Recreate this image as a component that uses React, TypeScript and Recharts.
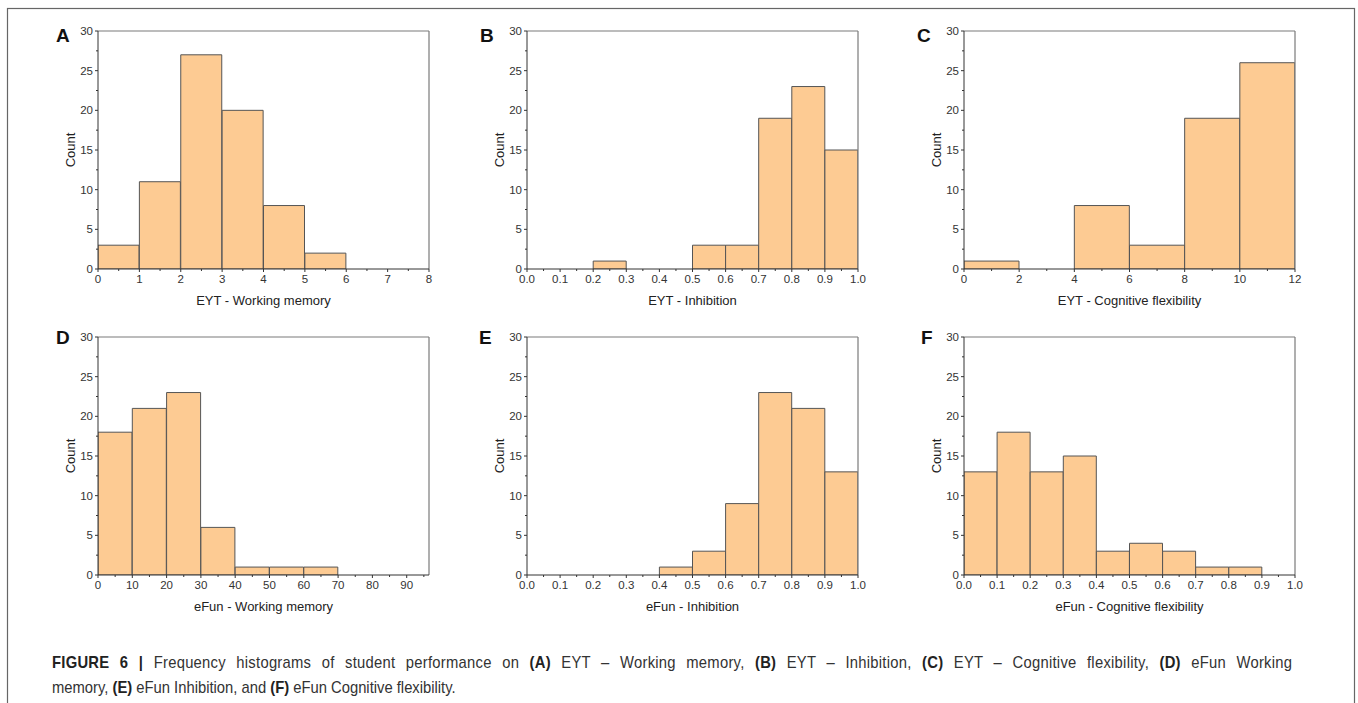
import React from "react";
import { Bar, BarChart, ReferenceLine, XAxis, YAxis } from "recharts";

// bin centres and counts
const eytWmBins = [0.5, 1.5, 2.5, 3.5, 4.5, 5.5];
const eytWmCounts = [3, 11, 27, 20, 8, 2];

const eytInhBins = [0.05, 0.15, 0.25, 0.35, 0.45, 0.55, 0.65, 0.75, 0.85, 0.95];
const eytInhCounts = [0, 0, 1, 0, 0, 3, 3, 19, 23, 15];

const eytCfBins = [1, 3, 5, 7, 9, 11];
const eytCfCounts = [1, 0, 8, 3, 19, 26];

const efunWmBins = [5, 15, 25, 35, 45, 55, 65];
const efunWmCounts = [18, 21, 23, 6, 1, 1, 1];

const efunInhBins = [0.45, 0.55, 0.65, 0.75, 0.85, 0.95];
const efunInhCounts = [1, 3, 9, 23, 21, 13];

const efunCfBins = [0.05, 0.15, 0.25, 0.35, 0.45, 0.55, 0.65, 0.75, 0.85];
const efunCfCounts = [13, 18, 13, 15, 3, 4, 3, 1, 1];

// major tick labels
const countTicks = [0, 5, 10, 15, 20, 25, 30];
const wmTicks = [0, 1, 2, 3, 4, 5, 6, 7, 8];
const fracTicks = [0, 0.1, 0.2, 0.3, 0.4, 0.5, 0.6, 0.7, 0.8, 0.9, 1.0];
const cfTicks = [0, 2, 4, 6, 8, 10, 12];
const efunWmTicks = [0, 10, 20, 30, 40, 50, 60, 70, 80, 90];

const FILL = "#FDCB93";
const EDGE = "#555555";
const AXIS = "#333333";
const FRAME = "#7a7a7a";
const FONT = "'Liberation Sans', Arial, sans-serif";
const TICK = 3;
const GAP = 2;
const XGAP = 3;

const PLOT_W = 331;
const PLOT_H = 238;
const Y_AXIS_W = 56;
const X_AXIS_H = 40;
const M = { top: 10, right: 10, bottom: 0, left: 0 };

// caption is set in a condensed face; squeeze Liberation Sans to match
const CAP_SQUEEZE = 0.87;

// majors plus a minor tick halfway between each pair
function withMinors(majors: number[], max: number) {
  const step = majors[1] - majors[0];
  const all: number[] = [];
  majors.forEach((m) => {
    all.push(m);
    const mid = m + step / 2;
    if (mid < max - 1e-9) all.push(mid);
  });
  return all;
}

const isMajor = (v: number, majors: number[]) => majors.some((m) => Math.abs(m - v) < 1e-9);

function XTick(props: any) {
  const { x, y, payload, majors, digits } = props;
  const major = isMajor(payload.value, majors);
  const axisY = y - TICK - XGAP;
  return (
    <g>
      <line x1={x} x2={x} y1={axisY} y2={axisY + (major ? TICK : 2)} stroke={AXIS} />
      {major && (
        <text x={x} y={y} dy="0.71em" textAnchor="middle" fontSize={11.5} fill="#333" fontFamily={FONT}>
          {payload.value.toFixed(digits)}
        </text>
      )}
    </g>
  );
}

function YTick(props: any) {
  const { x, y, payload } = props;
  const major = isMajor(payload.value, countTicks);
  const axisX = x + TICK + GAP;
  return (
    <g>
      <line x1={axisX} x2={axisX - (major ? TICK : 2)} y1={y} y2={y} stroke={AXIS} />
      {major && (
        <text x={x} y={y} dy="0.355em" textAnchor="end" fontSize={11.5} fill="#333" fontFamily={FONT}>
          {payload.value}
        </text>
      )}
    </g>
  );
}

type PanelProps = {
  bins: number[];
  counts: number[];
  majors: number[];
  xMax: number;
  digits: number;
  title: string;
  left: number;
  top: number;
};

function Histogram({ bins, counts, majors, xMax, digits, title, left, top }: PanelProps) {
  const data = bins.map((x, i) => ({ x, count: counts[i] }));
  return (
    <div style={{ position: "absolute", left: left - Y_AXIS_W, top: top - M.top }}>
      <BarChart
        width={Y_AXIS_W + PLOT_W + M.right}
        height={M.top + PLOT_H + X_AXIS_H}
        data={data}
        margin={M}
        barCategoryGap={0}
        barGap={0}
      >
        <XAxis
          dataKey="x"
          type="number"
          domain={[0, xMax]}
          allowDataOverflow
          ticks={withMinors(majors, xMax)}
          interval={0}
          height={X_AXIS_H}
          tickLine={false}
          tickSize={TICK}
          tickMargin={XGAP}
          axisLine={{ stroke: AXIS }}
          tick={(p: any) => <XTick {...p} majors={majors} digits={digits} />}
          label={{ value: title, position: "insideBottom", offset: 4, fontSize: 13, fill: "#222", fontFamily: FONT }}
        />
        <YAxis
          type="number"
          domain={[0, 30]}
          allowDataOverflow
          ticks={withMinors(countTicks, 30.01)}
          interval={0}
          width={Y_AXIS_W}
          tickLine={false}
          tickSize={TICK}
          tickMargin={GAP}
          axisLine={{ stroke: AXIS }}
          tick={(p: any) => <YTick {...p} />}
          label={{ value: "Count", angle: -90, position: "center", fontSize: 13, fill: "#222", fontFamily: FONT }}
        />
        <ReferenceLine y={30} stroke={FRAME} strokeWidth={1.2} />
        <ReferenceLine x={xMax} stroke={FRAME} strokeWidth={1.2} />
        <Bar dataKey="count" fill={FILL} stroke={EDGE} strokeWidth={1} isAnimationActive={false} />
      </BarChart>
    </div>
  );
}

const COLS = [98, 527, 964];
const ROWS = [31, 337];

export default function App() {
  return (
    <div style={{ position: "absolute", left: 0, top: 0, width: 1358, height: 703, background: "#fff", fontFamily: FONT, overflow: "hidden" }}>
      <Histogram bins={eytWmBins} counts={eytWmCounts} majors={wmTicks} xMax={8} digits={0} title="EYT - Working memory" left={COLS[0]} top={ROWS[0]} />
      <Histogram bins={eytInhBins} counts={eytInhCounts} majors={fracTicks} xMax={1} digits={1} title="EYT - Inhibition" left={COLS[1]} top={ROWS[0]} />
      <Histogram bins={eytCfBins} counts={eytCfCounts} majors={cfTicks} xMax={12} digits={0} title="EYT - Cognitive flexibility" left={COLS[2]} top={ROWS[0]} />
      <Histogram bins={efunWmBins} counts={efunWmCounts} majors={efunWmTicks} xMax={96.5} digits={0} title="eFun - Working memory" left={COLS[0]} top={ROWS[1]} />
      <Histogram bins={efunInhBins} counts={efunInhCounts} majors={fracTicks} xMax={1} digits={1} title="eFun - Inhibition" left={COLS[1]} top={ROWS[1]} />
      <Histogram bins={efunCfBins} counts={efunCfCounts} majors={fracTicks} xMax={1} digits={1} title="eFun - Cognitive flexibility" left={COLS[2]} top={ROWS[1]} />
      <svg width={1358} height={703} style={{ position: "absolute", left: 0, top: 0, pointerEvents: "none" }}>
        <rect x={7.5} y={8.5} width={1347} height={720} fill="none" stroke="#666" strokeWidth={1.2} />
        <g fontFamily={FONT} fontWeight="bold" fontSize={19} fill="#111">
          <text x={56} y={42}>A</text>
          <text x={480} y={42}>B</text>
          <text x={917} y={42}>C</text>
          <text x={56} y={344}>D</text>
          <text x={479} y={344}>E</text>
          <text x={921} y={344}>F</text>
        </g>
        <g transform={`translate(52,0) scale(${CAP_SQUEEZE},1)`} fontFamily={FONT} fontSize={17} fill="#333">
          {/* first caption line is justified to the full width */}
          <text x={0} y={668} wordSpacing={7} textLength={1240 / CAP_SQUEEZE} lengthAdjust="spacing">
            <tspan fontWeight="bold" fill="#222">FIGURE 6 | </tspan>
            <tspan>Frequency histograms of student performance on </tspan>
            <tspan fontWeight="bold" fill="#222">(A)</tspan>
            <tspan> EYT – Working memory, </tspan>
            <tspan fontWeight="bold" fill="#222">(B)</tspan>
            <tspan> EYT – Inhibition, </tspan>
            <tspan fontWeight="bold" fill="#222">(C)</tspan>
            <tspan> EYT – Cognitive flexibility, </tspan>
            <tspan fontWeight="bold" fill="#222">(D)</tspan>
            <tspan> eFun Working</tspan>
          </text>
          <text x={0} y={693}>
            <tspan>memory, </tspan>
            <tspan fontWeight="bold" fill="#222">(E)</tspan>
            <tspan> eFun Inhibition, and </tspan>
            <tspan fontWeight="bold" fill="#222">(F)</tspan>
            <tspan> eFun Cognitive flexibility.</tspan>
          </text>
        </g>
      </svg>
    </div>
  );
}
